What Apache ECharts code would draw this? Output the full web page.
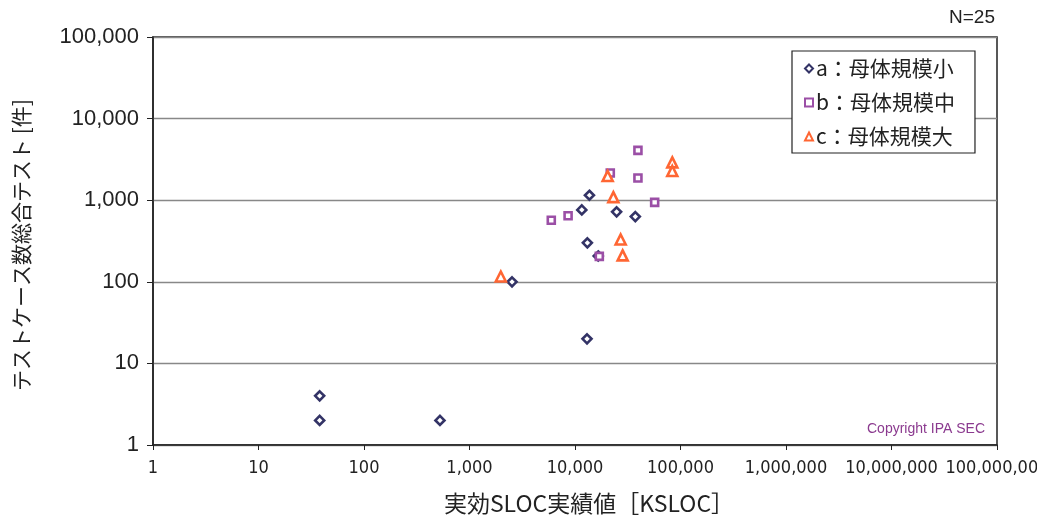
<!DOCTYPE html>
<html>
<head>
<meta charset="utf-8">
<script src="https://cdn.jsdelivr.net/npm/echarts@6/dist/echarts.min.js"></script>
<style>
html,body{margin:0;padding:0;background:#fff;}
#c{width:1037px;height:517px;}
</style>
</head>
<body>
<div id="c"></div>
<script>
const seriesNames = ['a：母体規模小', 'b：母体規模中', 'c：母体規模大'];
const aX = [38, 38, 525, 2530, 13000, 13700, 11600, 24800, 37300, 13100, 16600];
const aY = [4, 2, 2, 100, 20, 1150, 760, 720, 630, 300, 207];
const bX = [39500, 21600, 39500, 56900, 8600, 5960, 17000];
const bY = [4080, 2150, 1870, 940, 646, 567, 205];
const cX = [83600, 83600, 20400, 23100, 27100, 28300, 1980];
const cY = [2910, 2280, 1980, 1090, 330, 211, 116];
const xTicks = [1, 10, 100, 1000, 10000, 100000, 1000000, 10000000, 100000000];
const yTicks = [1, 10, 100, 1000, 10000, 100000];
const xAxisName = '実効SLOC実績値［KSLOC］';
const yAxisName = 'テストケース数総合テスト [件]';
const sampleNote = 'N=25';
const copyright = 'Copyright IPA SEC';

const colors = ['#333366', '#9B4FA6', '#FF6633'];
const symbols = ['diamond', 'rect', 'triangle'];
const sizes = [9, 7, 10];

function pairs(xs, ys) { return xs.map((x, i) => [x, ys[i]]); }
function fmt(v) { return Math.round(v).toLocaleString('en-US'); }

const chart = echarts.init(document.getElementById('c'));
const allData = [pairs(aX, aY), pairs(bX, bY), pairs(cX, cY)];

chart.setOption({
  animation: false,
  backgroundColor: '#fff',
  grid: { left: 153, right: 40, top: 37, bottom: 72, show: true, borderColor: '#222', borderWidth: 1.5, backgroundColor: 'transparent', containLabel: false, outerBoundsMode: 'none' },
  xAxis: {
    type: 'log', logBase: 10, min: xTicks[0], max: xTicks[xTicks.length - 1],
    name: xAxisName, nameLocation: 'middle', nameGap: 47,
    nameTextStyle: { fontSize: 23, color: '#222', fontFamily: 'Noto Sans CJK JP', padding: [0, 0, 0, 28] },
    axisLine: { show: true, lineStyle: { color: '#222', width: 1.5 } },
    axisTick: { show: true, length: 5, lineStyle: { color: '#222' } },
    axisLabel: { formatter: fmt, fontSize: 18, color: '#222', margin: 14, hideOverlap: false, showMaxLabel: true, showMinLabel: true, fontFamily: 'Liberation Sans Narrow, DejaVu Sans Condensed, Liberation Sans, sans-serif' },
    splitLine: { show: false },
    minorTick: { show: false }
  },
  yAxis: {
    type: 'log', logBase: 10, min: yTicks[0], max: yTicks[yTicks.length - 1],
    name: yAxisName, nameLocation: 'middle', nameGap: 121, nameRotate: 90,
    nameTextStyle: { fontSize: 21, color: '#222', fontFamily: 'Noto Sans CJK JP', padding: [0, 0, 0, -8] },
    axisLine: { show: true, lineStyle: { color: '#222', width: 1.5 } },
    axisTick: { show: true, length: 6, inside: false, lineStyle: { color: '#222' } },
    axisLabel: { formatter: fmt, fontSize: 22, color: '#222', margin: 14, fontFamily: 'Liberation Sans, sans-serif' },
    splitLine: { show: true, lineStyle: { color: '#888', width: 1.3 } }
  },
  legend: {
    orient: 'vertical', left: 792, top: 51, width: 164,
    backgroundColor: '#fff', borderColor: '#222', borderWidth: 1.2, borderRadius: 0,
    padding: [7, 20, 6, 12], itemGap: 13, itemWidth: 8, itemHeight: 8,
    textStyle: { fontSize: 21, color: '#222', fontFamily: 'Noto Sans CJK JP', padding: [0, 0, 0, -2] },
    data: seriesNames.map((n, i) => ({ name: n, icon: symbols[i] }))
  },
  graphic: [
    { type: 'text', right: 42, top: 8, style: { text: sampleNote, fontSize: 19, fill: '#222', fontFamily: 'Liberation Sans, sans-serif' } },
    { type: 'text', right: 52, top: 422, style: { text: copyright, fontSize: 14, fill: '#8B3A8F', fontFamily: 'Liberation Sans, sans-serif' } }
  ],
  series: seriesNames.map((n, i) => ({
    name: n, type: 'scatter', symbol: symbols[i], symbolSize: sizes[i],
    itemStyle: { color: '#fff', borderColor: colors[i], borderWidth: 2.6, opacity: 1 },
    data: allData[i], z: 3
  }))
});
</script>
</body>
</html>
